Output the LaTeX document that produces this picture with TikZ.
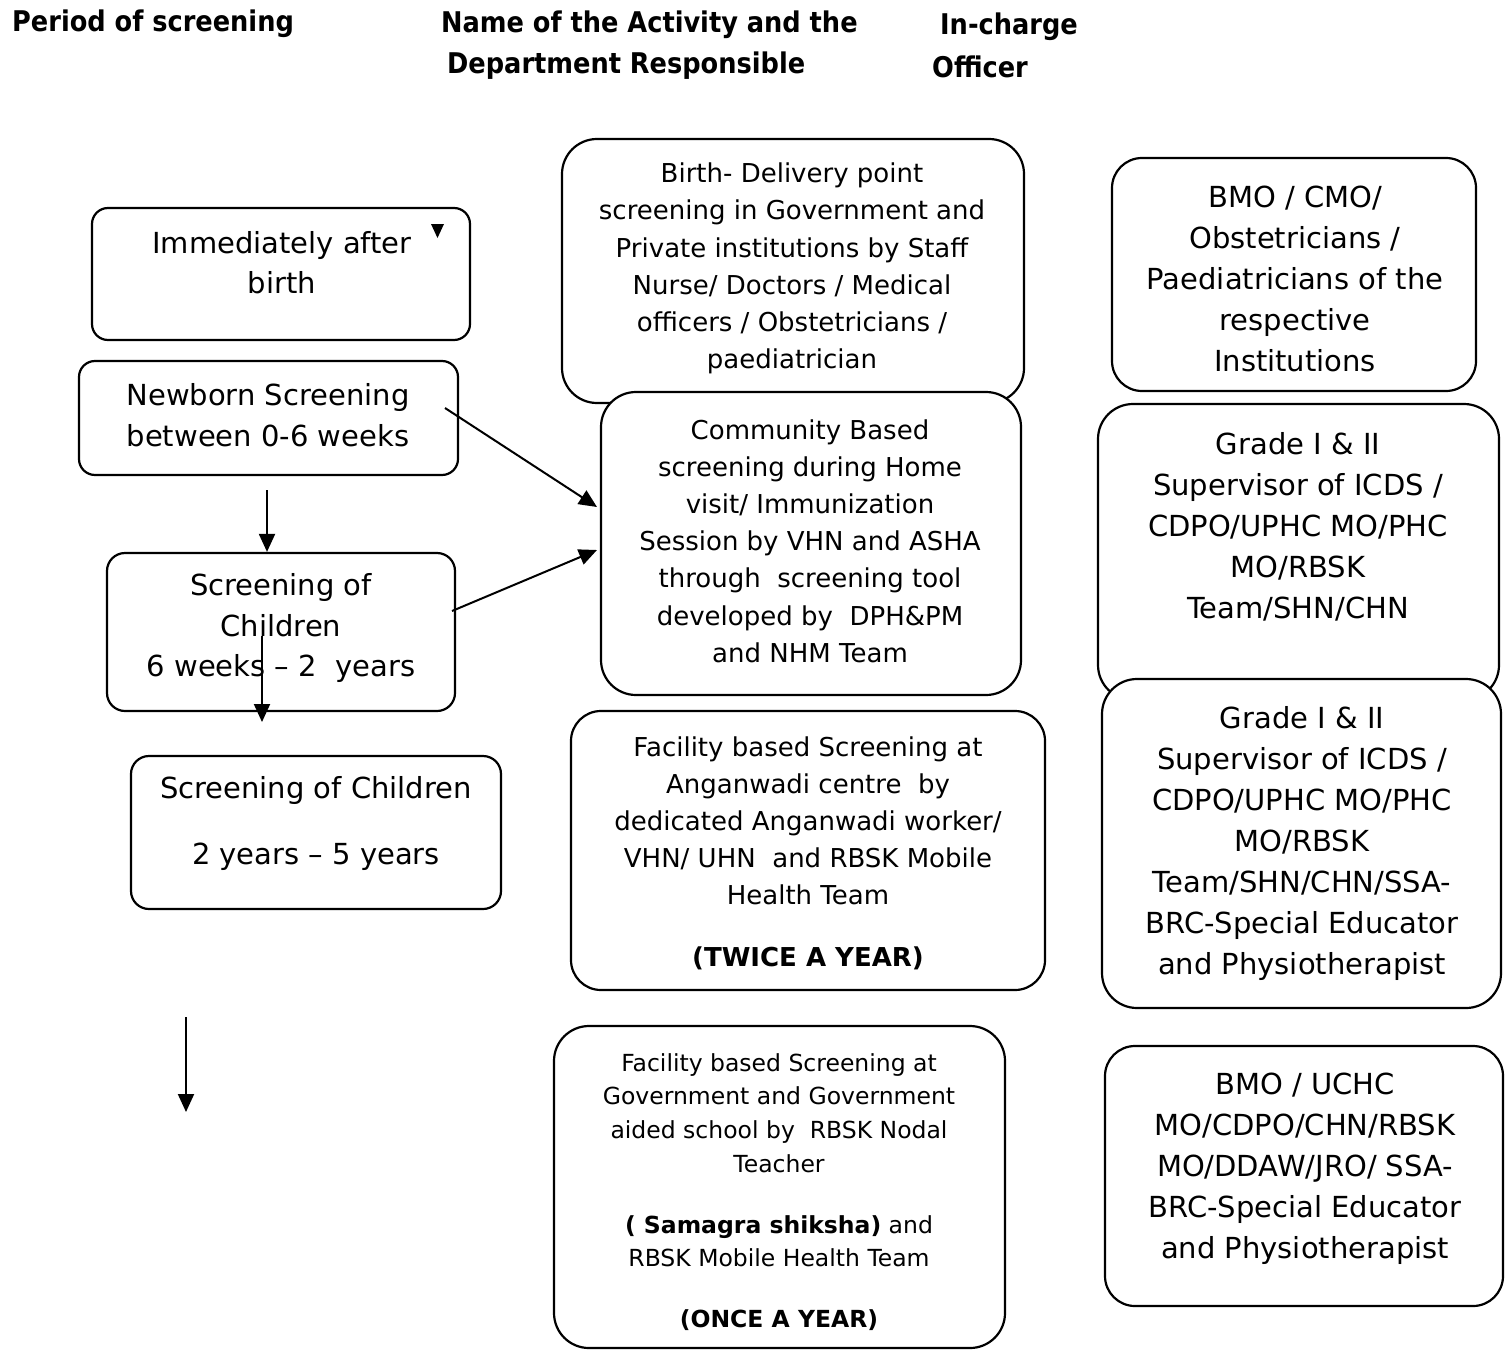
\documentclass[tikz,border=0pt]{standalone}
\usepackage{fontspec}
\setmainfont{DejaVu Sans}
\newfontfamily\hdrfont{DejaVu Sans Condensed}
\usetikzlibrary{arrows.meta}
\begin{document}
\begin{tikzpicture}[x=1pt,y=-1pt,
  box/.style={draw,line width=2.2pt,fill=white,inner sep=0pt,rounded corners=#1},
  box/.default=30pt,
  hdr/.style={anchor=west,inner sep=0pt,font=\hdrfont\bfseries\fontsize{28.5}{34}\selectfont},
  tl/.style={align=center,inner sep=0pt,font=\fontsize{29}{40.5}\selectfont},
  tc/.style={align=center,inner sep=0pt,font=\fontsize{26}{37.2}\selectfont},
  tcs/.style={align=center,inner sep=0pt,font=\fontsize{23.5}{33.7}\selectfont},
  tr/.style={align=center,inner sep=0pt,font=\fontsize{29}{41}\selectfont},
  arr/.style={line width=2pt,-{Triangle[length=18pt,width=16pt]}}]
\useasboundingbox (0,0) rectangle (1509,1351);

% headers
\node[hdr] (h1) at (12,24) {Period of screening};
\node[hdr] (h2) at (441,25) {Name of the Activity and the};
\node[hdr] (h3) at (447,66) {Department Responsible};
\node[hdr] (h4) at (940,27) {In-charge};
\node[hdr] (h5) at (932,67) {Officer};

% left column boxes
\node[box=16pt,minimum width=378pt,minimum height=132pt] (b1) at (281,274) {};
\node[box=16pt,minimum width=379pt,minimum height=114pt] (b2) at (268.5,418) {};
\node[box=18pt,minimum width=348pt,minimum height=158pt] (b3) at (281,632) {};
\node[box=18pt,minimum width=370pt,minimum height=153pt] (b4) at (316,832.5) {};

% middle column boxes
\node[box=35pt,minimum width=462pt,minimum height=264pt] (c1) at (793,271) {};
\node[box=35pt,minimum width=420pt,minimum height=303pt] (c2) at (811,543.5) {};
\node[box=30pt,minimum width=474pt,minimum height=279pt] (c3) at (808,850.5) {};
\node[box=35pt,minimum width=451pt,minimum height=322pt] (c4) at (779.5,1187) {};

% right column boxes
\node[box=30pt,minimum width=364pt,minimum height=233pt] (d1) at (1294,274.5) {};
\node[box=35pt,minimum width=401pt,minimum height=296pt] (d2) at (1298.5,552) {};
\node[box=35pt,minimum width=399pt,minimum height=329pt] (d3) at (1301.5,843.5) {};
\node[box=30pt,minimum width=398pt,minimum height=260pt] (d4) at (1304,1176) {};

% texts left
\node[tl] (b1t) at (282,262.5) {Immediately after\\birth};
\node[tl] (b2t) at (268,415) {Newborn Screening\\between 0-6 weeks};
\node[tl] (b3t) at (281,628) {Screening of\\Children\\6 weeks – 2\ \ years};
\node[tl] (b4t) at (316,823.5) {Screening of Children\\[26pt]2 years – 5 years};
\fill (431,224) -- (444,224) -- (437.5,238) -- cycle;

% texts middle
\node[tc] (c1t) at (792,268.5) {Birth- Delivery point\\screening in Government and\\Private institutions by Staff\\Nurse/ Doctors / Medical\\officers / Obstetricians /\\paediatrician};
\node[tc] (c2t) at (810,541) {Community Based\\screening during Home\\visit/ Immunization\\Session by VHN and ASHA\\through\ \ screening tool\\developed by\ \ DPH\&PM\\and NHM Team};
\node[tc] (c3t) at (808,853) {Facility based Screening at\\Anganwadi centre\ \ by\\dedicated Anganwadi worker/\\VHN/ UHN\ \ and RBSK Mobile\\Health Team\\[24pt]\textbf{(TWICE A YEAR)}};
\node[tcs] (c4t) at (779,1192) {Facility based Screening at\\Government and Government\\aided school by\ \ RBSK Nodal\\Teacher\\[27pt]\textbf{( Samagra shiksha)} and\\RBSK Mobile Health Team\\[27pt]\textbf{(ONCE A YEAR)}};

% texts right
\node[tr] (d1t) at (1295,278.5) {BMO / CMO/\\Obstetricians /\\Paediatricians of the\\respective\\Institutions};
\node[tr] (d2t) at (1298,527) {Grade I \& II\\Supervisor of ICDS /\\CDPO/UPHC MO/PHC\\MO/RBSK\\Team/SHN/CHN};
\node[tr] (d3t) at (1302,843) {Grade I \& II\\Supervisor of ICDS /\\CDPO/UPHC MO/PHC\\MO/RBSK\\Team/SHN/CHN/SSA-\\BRC-Special Educator\\and Physiotherapist};
\node[tr] (d4t) at (1305,1168.5) {BMO / UCHC\\MO/CDPO/CHN/RBSK\\MO/DDAW/JRO/ SSA-\\BRC-Special Educator\\and Physiotherapist};

% arrows
\coordinate (a1s) at (267,490);
\draw[arr] (a1s) -- (a1s |- b3.north);
\coordinate (a2s) at (262,636);
\coordinate (a2e) at (262,722);
\draw[arr] (a2s) -- (a2e);
\coordinate (a3s) at (186,1017);
\coordinate (a3e) at (186,1112);
\draw[arr] (a3s) -- (a3e);
\coordinate (a4s) at (445,408);
\coordinate (a4e) at (597,507);
\draw[arr] (a4s) -- (a4e);
\coordinate (a5s) at (452,611);
\coordinate (a5e) at (597,550);
\draw[arr] (a5s) -- (a5e);
\end{tikzpicture}
\end{document}
